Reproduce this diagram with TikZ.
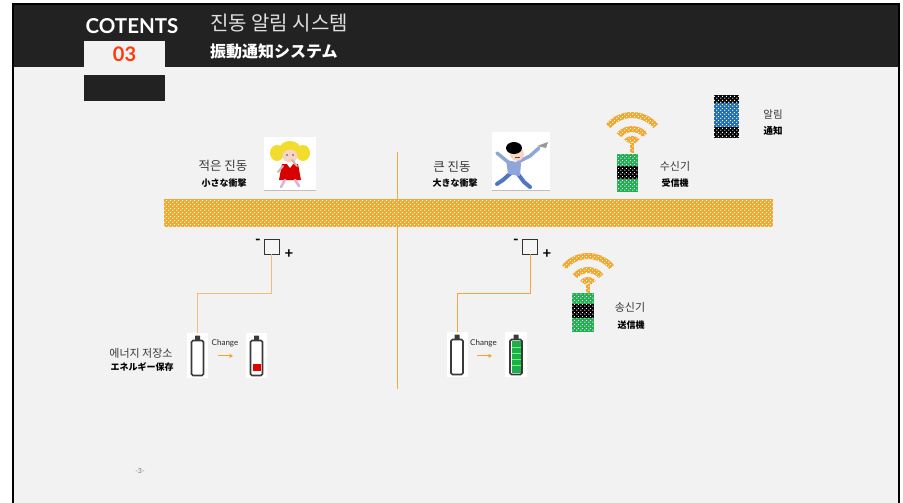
\documentclass[tikz,border=0pt]{standalone}
\usepackage{fontspec}
\usetikzlibrary{arrows.meta,patterns.meta}
\newfontfamily\krfont{Noto Sans CJK KR}
\newfontfamily\jpfont{Noto Sans CJK JP}
\newfontfamily\latfont{Lato}

\definecolor{pagegray}{HTML}{F2F2F2}
\definecolor{headdark}{HTML}{222222}
\definecolor{numred}{HTML}{FF3A0A}
\definecolor{bandorange}{HTML}{F5A52A}
\definecolor{wirelight}{HTML}{EDBD7E}
\definecolor{wireorange}{HTML}{F3A73C}
\definecolor{devgreen}{HTML}{1DAF4E}
\definecolor{alertblue}{HTML}{1F6FBF}
\definecolor{battgray}{HTML}{3A3A3A}
\definecolor{skin}{HTML}{F6D5C4}
\definecolor{hairyellow}{HTML}{F2DC2E}
\definecolor{shirtblue}{HTML}{8EA6DA}
\definecolor{jeans}{HTML}{4F76C2}

% checker of small white holes
\tikzdeclarepattern{
  name=holes,
  type=uncolored,
  bottom left={(0pt,0pt)},
  top right={(4pt,4pt)},
  tile size={(4pt,4pt)},
  code={
    \fill (1pt,1pt) circle (0.8pt);
    \fill (3pt,3pt) circle (0.8pt);
  }
}

\tikzset{
  dotfill/.style={preaction={fill=#1}, pattern=holes, pattern color=white},
  krlabel/.style={font=\krfont\fontsize{#1}{#1}\selectfont, text=black!78, inner sep=0},
  krlabel/.default=12.5,
  jplabel/.style={font=\jpfont\bfseries\fontsize{#1}{#1}\selectfont, text=black, inner sep=0},
  jplabel/.default=9,
  wire/.style={line width=0.9pt},
  pole/.style={font=\latfont\bfseries\fontsize{15}{15}\selectfont, inner sep=0},
  switchbox/.style={draw=black!80, fill=white!96!black, line width=0.8pt, minimum size=15pt, inner sep=0},
  battbox/.style={fill=white, minimum width=21pt, minimum height=45pt, inner sep=0},
  chglabel/.style={font=\latfont\fontsize{8}{8}\selectfont, text=black!85, inner sep=0},
  chgarrow/.style={bandorange, line width=0.9pt, -{Triangle[length=3.5pt,width=4pt]}},
  battcell/.pic={
    \draw[battgray, line width=1.6pt, rounded corners=1.5pt] (-6,-15) rectangle (6,20);
    \fill[battgray, rounded corners=0.6pt] (-2.5,-20) rectangle (2.5,-15);
  },
  waves/.pic={
    \foreach \ro/\ri in {34/28,20/14,10/4}
      \fill[dotfill=bandorange] (-140:\ro) arc[start angle=-140, end angle=-40, radius=\ro]
        -- (-40:\ri) arc[start angle=-40, end angle=-140, radius=\ri] -- cycle;
    \fill[dotfill=bandorange] (-2,-3) rectangle (2,7);
  },
}

\begin{document}
\begin{tikzpicture}[x=1pt, y=-1pt]
\useasboundingbox (0,0) rectangle (903,503);
% page and header band
\fill[white] (0,0) rectangle (903,503);
\fill[black] (12,3) rectangle (900,503);
\fill[pagegray] (14,5) rectangle (898,503);
\fill[headdark] (14,5) rectangle (898,67);

\node[font=\latfont\bfseries\fontsize{20.5}{20}\selectfont, text=white, inner sep=0] (cotents) at (132,26) {COTENTS};
\node[fill=pagegray, minimum width=81pt, minimum height=26pt, inner sep=0, font=\latfont\bfseries\fontsize{20}{20}\selectfont, text=numred] (chapnum) at (124.5,54) {03};
\fill[headdark] (84,75) rectangle (165,101);
\node[anchor=west, inner sep=0, font=\krfont\fontsize{20}{20}\selectfont, text=white!88!black] (title) at (210,23) {진동 알림 시스템};
\node[anchor=west, inner sep=0, font=\jpfont\bfseries\fontsize{16}{16}\selectfont, text=white] (subtitle) at (210,52) {振動通知システム};

% floor band and divider
\fill[dotfill=bandorange] (164,199) rectangle (773,227);
\draw[wireorange, line width=0.8pt] (397,152) -- (397,389);

% small shock
\node[krlabel] (smallkr) at (223,166) {적은 진동};
\node[jplabel] (smalljp) at (224,183) {小さな衝撃};
\node[fill=white, minimum width=52pt, minimum height=54pt, inner sep=0] (girl) at (290,164) {};
\fill[hairyellow] (277,153) ellipse (7 and 8) (303,153) ellipse (7 and 8);
\fill[hairyellow] (290,150) ellipse (11 and 9);
\fill[skin] (290,156) ellipse (7.5 and 6.5);
\fill[black!70] (287,155) circle (0.8) (293,155) circle (0.8);
\fill[red!85!black] (282,164) -- (298,164) -- (301,180) -- (279,180) -- cycle;
\fill[white] (287,164) -- (293,164) -- (290,168) -- cycle;
\draw[skin!85!black, line width=2pt, line cap=round] (283,166) -- (278,172) (297,166) -- (292,160);
\draw[violet!30, line width=2.5pt, line cap=round] (285,180) -- (281,187) (295,180) -- (299,186);
\draw[black!25] (264,190) -- (316,190);

% big shock
\node[krlabel] (bigkr) at (452,167) {큰 진동};
\node[jplabel] (bigjp) at (455,183) {大きな衝撃};
\node[fill=white, minimum width=58pt, minimum height=59pt, inner sep=0] (boy) at (521,161.5) {};
\draw[jeans, line width=4pt, line cap=round] (512,172) -- (503,180) -- (497,184) (518,174) -- (524,182) -- (530,187);
\fill[shirtblue] (506,160) -- (521,163) -- (520,176) -- (508,174) -- cycle;
\draw[shirtblue, line width=3.5pt, line cap=round] (508,162) -- (497,153) (518,162) -- (530,156) -- (539,148);
\fill[black!40] (537,146) -- (548,142) -- (546,148) -- cycle;
\fill[skin] (517,154) circle (7);
\fill[black] (514,148) ellipse (8 and 6);
\draw[black!70, line width=0.5pt] (515,157) -- (520,157);
\draw[black!25] (492,190) -- (550,190);

% receiver
\pic at (632,146) {waves};
\fill[dotfill=devgreen] (617,154) rectangle (638,166);
\fill[dotfill=black] (617,166) rectangle (638,179);
\fill[dotfill=devgreen] (617,179) rectangle (638,192);
\node[krlabel=11] (rxkr) at (675,166) {수신기};
\node[jplabel] (rxjp) at (675,183) {受信機};

% alert
\fill[dotfill=black] (714,95) rectangle (739,103);
\fill[dotfill=alertblue] (714,103) rectangle (739,127);
\fill[dotfill=black] (714,127) rectangle (739,138);
\node[krlabel=10.5] (alertkr) at (773,115) {알림};
\node[jplabel=9.5] (alertjp) at (773,131) {通知};

% left circuit
\node[switchbox] (swL) at (271.5,246.5) {};
\node[pole] (minusL) at (258,242) {-};
\node[pole] (plusL) at (289,254) {+};
\node[battbox] (batL1) at (197.5,355.5) {};
\pic at (batL1) {battcell};
\node[battbox] (batL2) at (256.5,355.5) {};
\pic at (batL2) {battcell};
\fill[red!90!black] (252.5,364) rectangle (260.5,371);
\draw[wire, wirelight] (swL.south) -- ++(0,39) -| (batL1.north);
\node[chglabel] (chgL) at (225,343) {Change};
\draw[chgarrow] ([xshift=-7pt, yshift=-9pt]chgL.south) -- ++(15,0);
\node[krlabel=11] (storekr) at (141,353) {에너지 저장소};
\node[jplabel] (storejp) at (142,367) {エネルギー保存};

% right circuit
\node[switchbox] (swR) at (530,246.5) {};
\node[pole] (minusR) at (516,242) {-};
\node[pole] (plusR) at (547,254) {+};
\node[battbox] (batR1) at (457,354.5) {};
\pic at (batR1) {battcell};
\node[battbox, minimum width=22pt] (batR2) at (516,354.5) {};
\pic at (batR2) {battcell};
\fill[devgreen] (511.5,341) rectangle (520.5,373);
\foreach \yy in {347,353,359,365}
  \draw[green!60!white, line width=0.5pt] (511.5,\yy) -- (520.5,\yy);
\draw[wire, wireorange] (swR.south) -- ++(0,39) -| (batR1.north);
\node[chglabel] (chgR) at (483.5,343) {Change};
\draw[chgarrow] ([xshift=-6.5pt, yshift=-9pt]chgR.south) -- ++(15,0);

% transmitter
\pic at (588,287) {waves};
\fill[dotfill=devgreen] (572,293) rectangle (594,304);
\fill[dotfill=black] (572,304) rectangle (594,318);
\fill[dotfill=devgreen] (572,318) rectangle (594,332);
\node[krlabel=11] (txkr) at (630,307) {송신기};
\node[jplabel] (txjp) at (631,325) {送信機};

\node[font=\latfont\fontsize{7}{7}\selectfont, text=black!55, inner sep=0] (pageno) at (140,471) {-3-};
\end{tikzpicture}
\end{document}
